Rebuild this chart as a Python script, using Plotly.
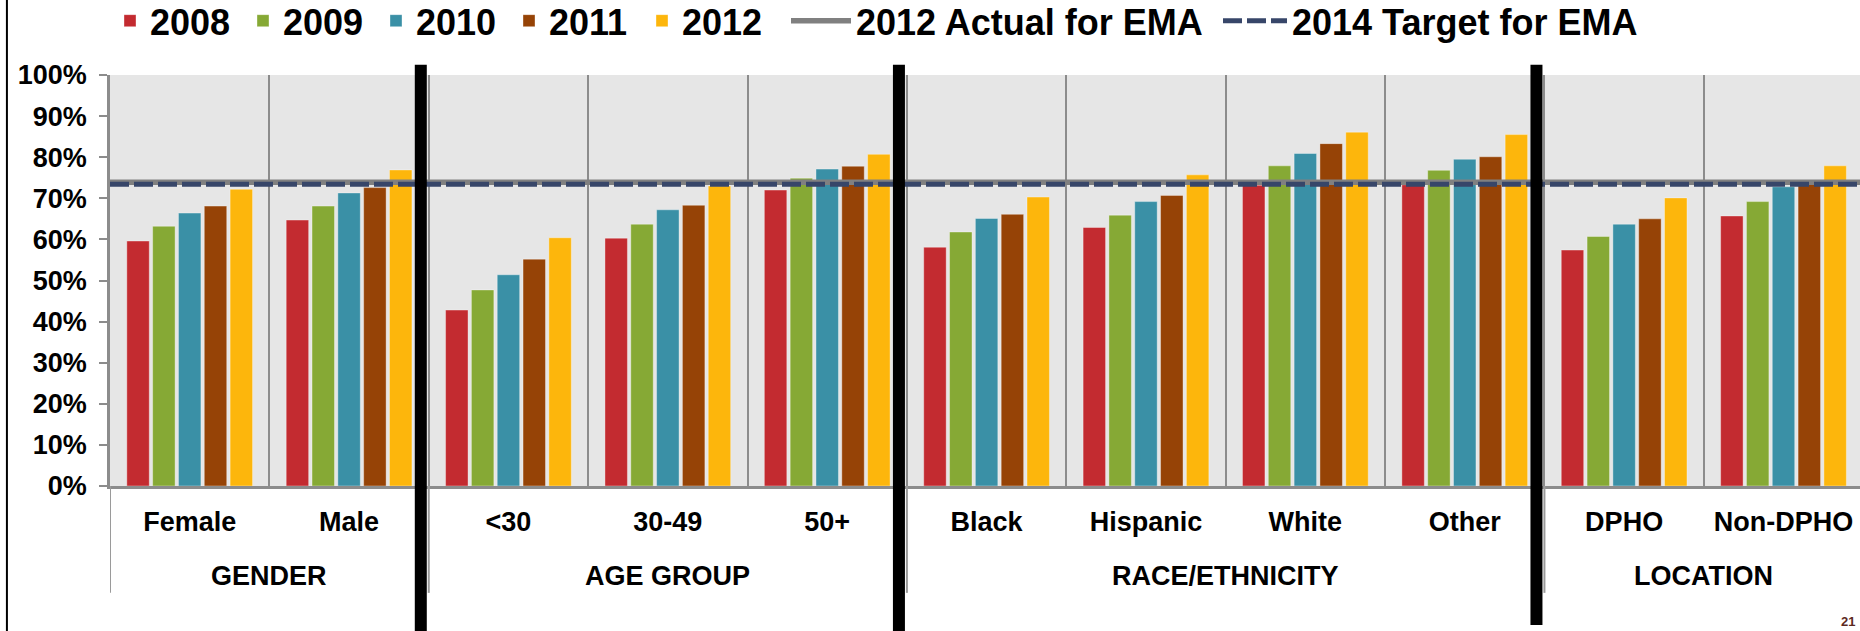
import plotly.graph_objects as go

categories = ["Female", "Male", "<30", "30-49", "50+", "Black", "Hispanic", "White", "Other", "DPHO", "Non-DPHO"]
groups = ["GENDER", "GENDER", "AGE GROUP", "AGE GROUP", "AGE GROUP",
          "RACE/ETHNICITY", "RACE/ETHNICITY", "RACE/ETHNICITY", "RACE/ETHNICITY",
          "LOCATION", "LOCATION"]
years = ["2008", "2009", "2010", "2011", "2012"]
v2008 = [0.596, 0.647, 0.428, 0.603, 0.720, 0.581, 0.629, 0.732, 0.733, 0.574, 0.657]
v2009 = [0.632, 0.681, 0.477, 0.637, 0.749, 0.618, 0.659, 0.779, 0.768, 0.607, 0.692]
v2010 = [0.664, 0.713, 0.514, 0.672, 0.771, 0.651, 0.692, 0.809, 0.795, 0.637, 0.728]
v2011 = [0.681, 0.726, 0.552, 0.683, 0.778, 0.661, 0.707, 0.833, 0.801, 0.650, 0.736]
v2012 = [0.722, 0.769, 0.604, 0.730, 0.807, 0.703, 0.757, 0.861, 0.855, 0.701, 0.779]
ema_actual_2012 = 0.739
ema_target_2014 = 0.734
page_number = "21"

series = [v2008, v2009, v2010, v2011, v2012]
colors = ["#C32B30", "#86A935", "#3A90A6", "#964306", "#FDB60C"]
FONT = "Liberation Sans, Arial, sans-serif"

fig = go.Figure()
for name, vals, col in zip(years, series, colors):
    fig.add_trace(go.Bar(
        x=categories, y=vals, name=name, legend="legend",
        marker=dict(color=col, line=dict(color="rgba(255,255,255,0.45)", width=0.8)),
    ))

n = len(categories)
span = [-0.5, n - 0.5]
fig.add_trace(go.Scatter(x=span, y=[ema_actual_2012] * 2, xaxis="x2", mode="lines",
                         name="2012 Actual for EMA", legend="legend2",
                         line=dict(color="#808080", width=5.5)))
fig.add_trace(go.Scatter(x=span, y=[ema_target_2014] * 2, xaxis="x2", mode="lines",
                         name="2014 Target for EMA", legend="legend3",
                         line=dict(color="#374669", width=5, dash="19px,5px")))

# group boundaries and centres derived from the group list
bounds = [-0.5]
for i in range(1, n):
    if groups[i] != groups[i - 1]:
        bounds.append(i - 0.5)
group_names = []
group_centres = []
for g in groups:
    if g not in group_names:
        group_names.append(g)
for g in group_names:
    idx = [i for i, gg in enumerate(groups) if gg == g]
    group_centres.append(sum(idx) / len(idx))

shapes = []
# gray dividers below the axis
for b in bounds:
    shapes.append(dict(type="line", xref="x2", yref="paper", x0=b, x1=b,
                       y0=0, y1=-0.26, line=dict(color="#9A9A9A", width=2)))
# thick black separators between groups
for k, b in enumerate(bounds[1:]):
    shapes.append(dict(type="line", xref="x2", yref="paper", x0=b - 0.05, x1=b - 0.05,
                       y0=-0.36 if k < 2 else -0.338, y1=1.025,
                       line=dict(color="black", width=12)))
# slide border on the left
shapes.append(dict(type="line", xref="paper", yref="paper", x0=-0.0589, x1=-0.0589,
                   y0=-0.36, y1=1.2, line=dict(color="black", width=2)))

annotations = []
for g, c in zip(group_names, group_centres):
    annotations.append(dict(text=g, xref="x2", yref="paper", x=c, y=-0.219,
                            xanchor="center", yanchor="middle", showarrow=False,
                            font=dict(size=27, family=FONT, weight="bold", color="black")))
annotations.append(dict(text=page_number, xref="paper", yref="paper", x=0.998, y=-0.352,
                        xanchor="right", yanchor="bottom", showarrow=False,
                        font=dict(size=13, family=FONT, weight="bold", color="#5C2A1E")))

legend_font = dict(size=36, family=FONT, weight="bold", color="black")
xr = [-0.5, 10.48]
fig.update_layout(
    width=1860, height=631,
    margin=dict(l=110, r=0, t=75, b=145, autoexpand=False),
    paper_bgcolor="white", plot_bgcolor="#E6E6E6",
    barmode="group", bargap=0.19, bargroupgap=0.13,
    font=dict(family=FONT, color="black"),
    showlegend=True,
    legend=dict(orientation="h", x=0.0, xanchor="left", y=1.132, yanchor="middle",
                font=legend_font, itemwidth=30, entrywidth=88,
                bgcolor="rgba(0,0,0,0)"),
    legend2=dict(orientation="h", x=(786 - 110) / 1750, xanchor="left", y=1.132,
                 yanchor="middle", font=legend_font, itemwidth=60,
                 bgcolor="rgba(0,0,0,0)"),
    legend3=dict(orientation="h", x=(1218 - 110) / 1750, xanchor="left", y=1.132,
                 yanchor="middle", font=legend_font, itemwidth=64,
                 bgcolor="rgba(0,0,0,0)"),
    xaxis=dict(type="category", range=xr, showgrid=False,
               showline=True, linecolor="#8C8C8C", linewidth=3,
               tickfont=dict(size=27, family=FONT, weight="bold", color="black"),
               ticks="", ticklabelstandoff=10),
    xaxis2=dict(overlaying="x", range=xr, showgrid=True, tick0=0.5, dtick=1,
                gridcolor="#8C8C8C", gridwidth=1.5, showticklabels=False,
                zeroline=False, showline=False, ticks=""),
    yaxis=dict(range=[0, 1], dtick=0.1, tickformat=".0%", showgrid=False,
               showline=True, linecolor="#8C8C8C", linewidth=2.5,
               ticks="outside", ticklen=8, tickcolor="#8C8C8C", tickwidth=2,
               zeroline=False, ticklabelstandoff=7,
               tickfont=dict(size=27, family=FONT, weight="bold", color="black")),
    shapes=shapes,
    annotations=annotations,
)

fig.write_html("out.html")
